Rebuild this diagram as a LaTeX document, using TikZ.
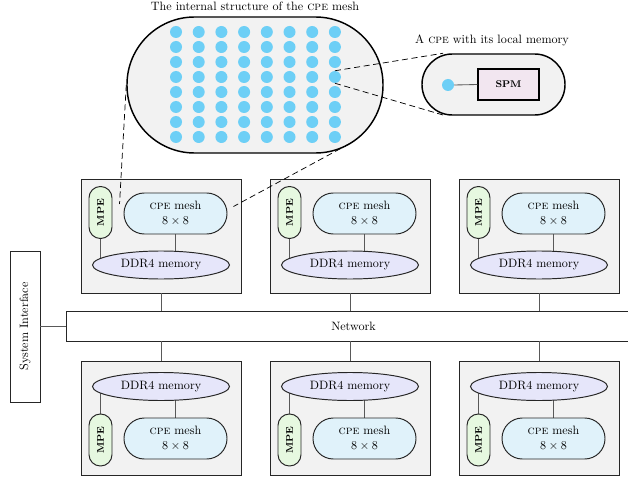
\documentclass[tikz,border=0pt]{standalone}
\usepackage{amsmath}
\usepackage{xcolor}
\definecolor{PanelGray}{HTML}{F2F2F2}
\definecolor{MeshBlue}{HTML}{E0F2FA}
\definecolor{MpeGreen}{HTML}{E6F8E0}
\definecolor{DdrLavender}{HTML}{E6E6FA}
\definecolor{SpmPink}{HTML}{F2E6F0}
\definecolor{DotBlue}{HTML}{6DCFF6}
\usepackage{tikz}
\usetikzlibrary{shapes.geometric, arrows.meta, positioning, backgrounds, calc}
\tikzset{
  % Box styles
  nodebox/.style={rectangle, draw=black!85, fill=PanelGray, line width=0.8pt, minimum width=46.4mm, minimum height=33.06mm, inner sep=0pt},
  mpebox/.style={rectangle, rounded corners=3.3mm, draw=black!85, fill=MpeGreen, line width=0.8pt, minimum width=15.08mm, minimum height=6.67mm, inner sep=0pt, font=\footnotesize\bfseries, rotate=90},
  meshbox/.style={rectangle, rounded corners=5.9mm, draw=black!85, fill=MeshBlue, line width=0.8pt, minimum width=29.87mm, minimum height=11.89mm, inner sep=0pt, align=center},
  ddrnode/.style={ellipse, draw=black!85, fill=DdrLavender, line width=0.8pt, minimum width=39.73mm, minimum height=8.12mm, inner sep=0pt},
  netbox/.style={rectangle, draw=black!85, fill=white, line width=0.8pt, minimum width=166.2mm, minimum height=8.7mm},
  sysbox/.style={rectangle, draw=black!85, fill=white, line width=0.8pt, minimum width=43.79mm, minimum height=8.7mm, rotate=90},
  pillbox/.style={rectangle, draw=black, fill=PanelGray, line width=1.2pt},
  spmbox/.style={rectangle, draw=black, fill=SpmPink, line width=1pt, minimum width=17.69mm, minimum height=8.99mm, font=\footnotesize\bfseries},
  pedot/.style={circle, fill=DotBlue, minimum size=3.48mm, inner sep=0pt},
  % Line styles
  conn/.style={draw=black!65, line width=0.7pt},
  zoomline/.style={draw=black, line width=0.6pt, dash pattern=on 5pt off 3pt}
}

\begin{document}
\begin{tikzpicture}[x=0.29mm, y=-0.29mm]
  \useasboundingbox (0,0) rectangle (628,481);

  % the zoomed mesh
  \node[pillbox, minimum width=74.24mm, minimum height=39.44mm, rounded corners=19.6mm] (mesh) at (255,85) {};
  \node (meshtitle) at (255,6) {The internal structure of the \textsc{cpe} mesh};
  \foreach \i in {1,...,8}
    \foreach \j in {1,...,8}
      \node[pedot] (d-\i-\j) at ({176+22.7*(\i-1)}, {32+15*(\j-1)}) {};

  % one cpe
  \node[pillbox, minimum width=41.47mm, minimum height=17.69mm, rounded corners=8.8mm] (cell) at (493.5,84.5) {};
  \node (celltitle) at (492,40) {A \textsc{cpe} with its local memory};
  \node[pedot] (ldot) at (448,85) {};
  \node[spmbox] (spm) at (508.5,84.5) {SPM};
  \draw[conn] (ldot.east) -- (spm.west);

  % core groups
  \begin{scope}[on background layer]
    \foreach \n/\cx/\cy in {1/161/236, 2/350/236, 3/539/236, 4/161/418, 5/350/418, 6/539/418}
      \node[nodebox] (box\n) at (\cx,\cy) {};
  \end{scope}
  \foreach \n/\cx in {1/161, 2/350, 3/539} {
    \node[mpebox] (mpe\n) at (\cx-60.5,212.5) {MPE};
    \node[meshbox] (cpe\n) at (\cx+14.5,213.5) {\textsc{cpe} mesh\\$8\times 8$};
    \node[ddrnode] (ddr\n) at (\cx,265) {DDR4 memory};
  }
  \foreach \n/\cx in {4/161, 5/350, 6/539} {
    \node[ddrnode] (ddr\n) at (\cx,386.5) {DDR4 memory};
    \node[mpebox] (mpe\n) at (\cx-60.5,440) {MPE};
    \node[meshbox] (cpe\n) at (\cx+14.5,438.5) {\textsc{cpe} mesh\\$8\times 8$};
  }

  \node[netbox] (net) at (353.5,326) {Network};
  \node[sysbox] (sys) at (25,326.5) {System Interface};

  \begin{scope}[on background layer]
    \foreach \n in {1,2,3} {
      \draw[conn] (mpe\n.west) -- (mpe\n.west |- ddr\n.center);
      \draw[conn] (cpe\n.south) -- (cpe\n.south |- ddr\n.center);
    }
    \foreach \n in {4,5,6} {
      \draw[conn] (mpe\n.east) -- (mpe\n.east |- ddr\n.center);
      \draw[conn] (cpe\n.north) -- (cpe\n.north |- ddr\n.center);
    }
  \end{scope}
  \foreach \n in {1,2,3}
    \draw[conn] (box\n.south) -- (box\n.south |- net.north);
  \foreach \n in {4,5,6}
    \draw[conn] (box\n.north) -- (box\n.north |- net.south);
  \draw[conn] (sys.south) -- (sys.south -| net.west);

  % zoom lines
  \draw[zoomline] (mesh.west) -- ([shift={(-4,-9.5)}]cpe1.west);
  \draw[zoomline] ($(mesh.center)+(94,59)$) -- ([shift={(6,-7)}]cpe1.east);
  \draw[zoomline] (d-8-4.north) -- ([xshift=18]cell.north west);
  \draw[zoomline] (d-8-4.south) -- ([xshift=20]cell.south west);
\end{tikzpicture}
\end{document}
